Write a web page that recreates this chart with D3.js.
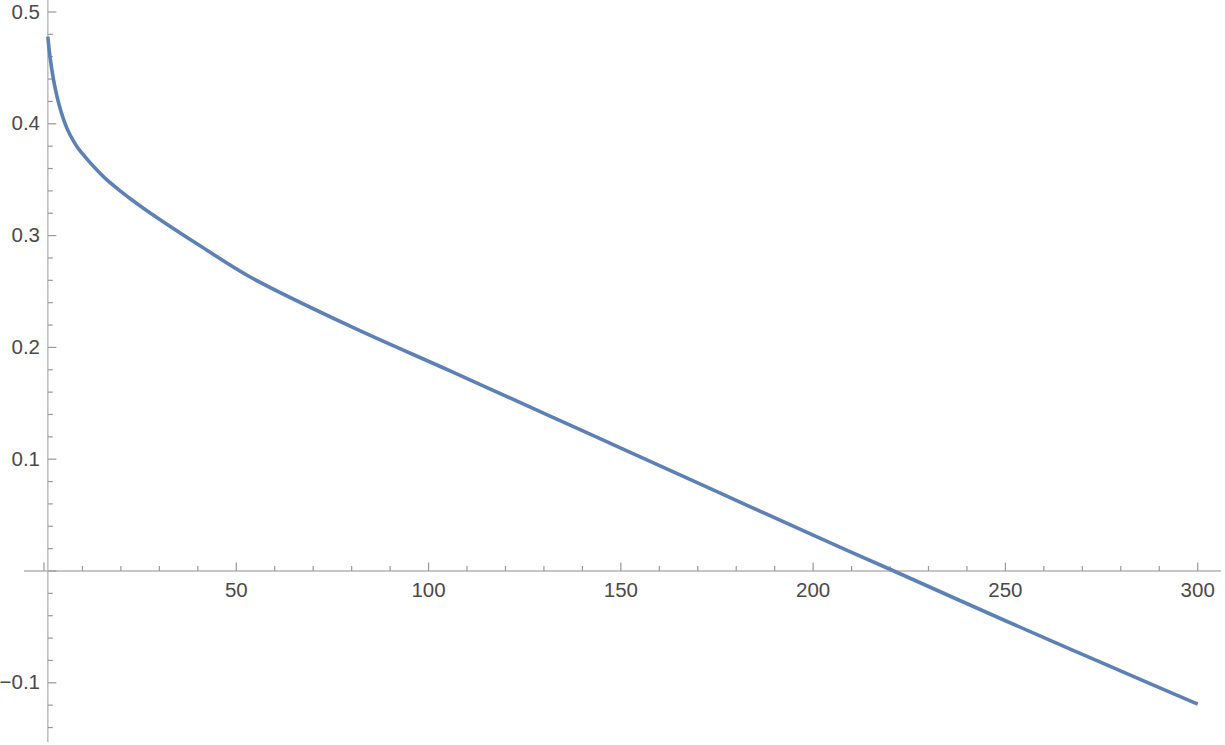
<!DOCTYPE html>
<html>
<meta charset="utf-8">
<style>
  body {
    margin: 0;
    background: #fff;
    overflow: hidden;
  }
  text {
    font-family: "Liberation Sans", Arial, sans-serif;
    font-size: 20.5px;
    fill: #4a4a4a;
  }
  .axis-line {
    stroke: #b3b3b3;
    stroke-width: 1.3;
  }
  .tick {
    stroke: #999;
    stroke-width: 1.2;
  }
  .curve {
    fill: none;
    stroke: #5e81b5;
    stroke-width: 3.6;
    stroke-linejoin: round;
  }
</style>
<body>
<script src="https://cdn.jsdelivr.net/npm/d3@7"></script>
<script>

// values
var xValues = [1, 1.56, 2.45, 3.7, 5.5, 6.8, 8.5, 10.8, 13.4, 16.3, 19.8, 23.6, 27.7, 41.6, 53.6, 79.6, 105.6, 131.6, 150, 175, 200, 221, 250, 275, 300];
var yValues = [0.478, 0.46, 0.44, 0.42, 0.40, 0.39, 0.38, 0.37, 0.36, 0.35, 0.34, 0.33, 0.32, 0.2886, 0.263, 0.219, 0.179, 0.1386, 0.110, 0.071, 0.032, 0.0, -0.0445, -0.082, -0.119];

var xMajorTicks = [0, 50, 100, 150, 200, 250, 300];
var xTickLabels = ['', '50', '100', '150', '200', '250', '300'];
var yMajorTicks = [-0.1, 0, 0.1, 0.2, 0.3, 0.4, 0.5];
var yTickLabels = ['\u22120.1', '', '0.1', '0.2', '0.3', '0.4', '0.5'];

var width = 1225;
var height = 745;

var data = xValues.map(function(x, i) {
  return { x: x, y: yValues[i] };
});

// scales: x 0 -> 44px, 300 -> 1197.7px ; y 0 -> 571px, 0.5 -> 12px
var x = d3.scaleLinear().domain([0, 300]).range([44, 1197.7]);
var y = d3.scaleLinear().domain([0, 0.5]).range([571, 12]);

var svg = d3
  .select('body')
  .append('svg')
  .attr('width', width)
  .attr('height', height);

var axisX = x(1); // vertical axis crosses at x = 1
var axisY = y(0);

// axis lines
svg
  .append('line')
  .attr('class', 'axis-line')
  .attr('x1', 24)
  .attr('x2', 1221)
  .attr('y1', axisY)
  .attr('y2', axisY);

svg
  .append('line')
  .attr('class', 'axis-line')
  .attr('x1', axisX)
  .attr('x2', axisX)
  .attr('y1', 0)
  .attr('y2', 742);

// x ticks (minor every 10, major every 50)
var xMinor = d3.range(0, 310, 10).filter(function(d) {
  return d % 50 !== 0;
});

svg
  .append('g')
  .selectAll('line')
  .data(xMinor)
  .enter()
  .append('line')
  .attr('class', 'tick')
  .attr('x1', function(d) { return x(d); })
  .attr('x2', function(d) { return x(d); })
  .attr('y1', axisY)
  .attr('y2', axisY - 5);

svg
  .append('g')
  .selectAll('line')
  .data(xMajorTicks)
  .enter()
  .append('line')
  .attr('class', 'tick')
  .attr('x1', function(d) { return x(d); })
  .attr('x2', function(d) { return x(d); })
  .attr('y1', axisY)
  .attr('y2', axisY - 8.5);

svg
  .append('g')
  .selectAll('text')
  .data(xMajorTicks)
  .enter()
  .append('text')
  .attr('x', function(d) { return x(d); })
  .attr('y', axisY + 25.5)
  .attr('text-anchor', 'middle')
  .text(function(d, i) { return xTickLabels[i]; });

// y ticks (minor every 0.02, major every 0.1)
var yMinor = d3.range(-7, 26).map(function(k) {
  return k * 0.02;
}).filter(function(d) {
  return Math.abs(Math.round(d * 10) - d * 10) > 1e-6;
});

svg
  .append('g')
  .selectAll('line')
  .data(yMinor)
  .enter()
  .append('line')
  .attr('class', 'tick')
  .attr('x1', axisX)
  .attr('x2', axisX + 5)
  .attr('y1', function(d) { return y(d); })
  .attr('y2', function(d) { return y(d); });

svg
  .append('g')
  .selectAll('line')
  .data(yMajorTicks)
  .enter()
  .append('line')
  .attr('class', 'tick')
  .attr('x1', axisX)
  .attr('x2', axisX + 8.5)
  .attr('y1', function(d) { return y(d); })
  .attr('y2', function(d) { return y(d); });

svg
  .append('g')
  .selectAll('text')
  .data(yMajorTicks)
  .enter()
  .append('text')
  .attr('x', 40)
  .attr('y', function(d) { return y(d) + 6.5; })
  .attr('text-anchor', 'end')
  .text(function(d, i) { return yTickLabels[i]; });

// the curve (centripetal catmull-rom copes with the uneven spacing near x = 1)
var line = d3
  .line()
  .x(function(d) { return x(d.x); })
  .y(function(d) { return y(d.y); })
  .curve(d3.curveCatmullRom.alpha(0.5));

svg
  .append('path')
  .datum(data)
  .attr('class', 'curve')
  .attr('d', line);

</script>
</body>
</html>
